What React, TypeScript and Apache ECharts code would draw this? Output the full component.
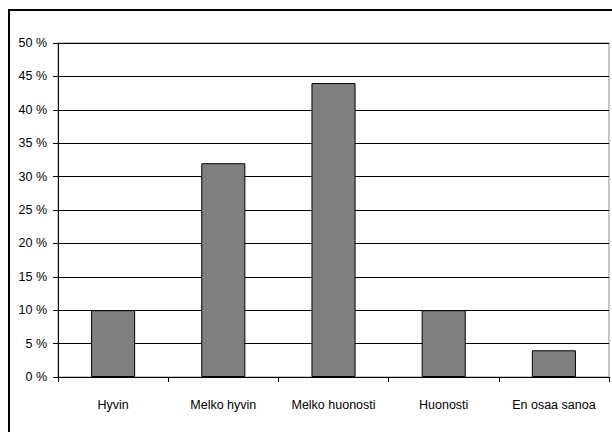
import React, { useEffect, useRef } from "react";
import * as echarts from "echarts";

const categories = ["Hyvin", "Melko hyvin", "Melko huonosti", "Huonosti", "En osaa sanoa"];
const values = [10, 32, 44, 10, 4];

const FONT = "'Liberation Sans', Arial, sans-serif";

export default function App() {
  const ref = useRef<HTMLDivElement>(null);
  useEffect(() => {
    document.body.style.margin = "0";
    if (!ref.current) return;
    const chart = echarts.init(ref.current, null, { renderer: "svg" });
    chart.setOption({
      animation: false,
      backgroundColor: "#ffffff",
      textStyle: { fontFamily: FONT },
      graphic: [
        {
          type: "rect",
          shape: { x: 9, y: 10, width: 640, height: 460 },
          style: { fill: "none", stroke: "#000", lineWidth: 2 },
          silent: true,
          z: 100,
        },
      ],
      grid: {
        left: 58,
        top: 43,
        right: 3,
        bottom: 55,
        show: true,
        borderColor: "#8c8c8c",
        borderWidth: 1,
        backgroundColor: "#fff",
      },
      xAxis: {
        type: "category",
        data: categories,
        axisLine: { show: true, lineStyle: { color: "#000", width: 1 } },
        axisTick: { show: true, length: 5, lineStyle: { color: "#000" } },
        axisLabel: { color: "#000", fontSize: 12.5, fontFamily: FONT, margin: 21, interval: 0 },
        splitLine: { show: false },
      },
      yAxis: {
        type: "value",
        min: 0,
        max: 50,
        interval: 5,
        axisLine: { show: true, lineStyle: { color: "#000", width: 1 } },
        axisTick: { show: true, length: 5, lineStyle: { color: "#000" } },
        axisLabel: { color: "#000", fontSize: 12.5, fontFamily: FONT, margin: 11, formatter: "{value} %" },
        splitLine: { show: true, lineStyle: { color: "#000", width: 1 } },
      },
      series: [
        {
          type: "bar",
          data: values,
          barWidth: "40%",
          itemStyle: { color: "#808080", borderColor: "#000", borderWidth: 1 },
        },
      ],
    });
    return () => chart.dispose();
  }, []);
  return <div ref={ref} style={{ width: 612, height: 432 }} />;
}
